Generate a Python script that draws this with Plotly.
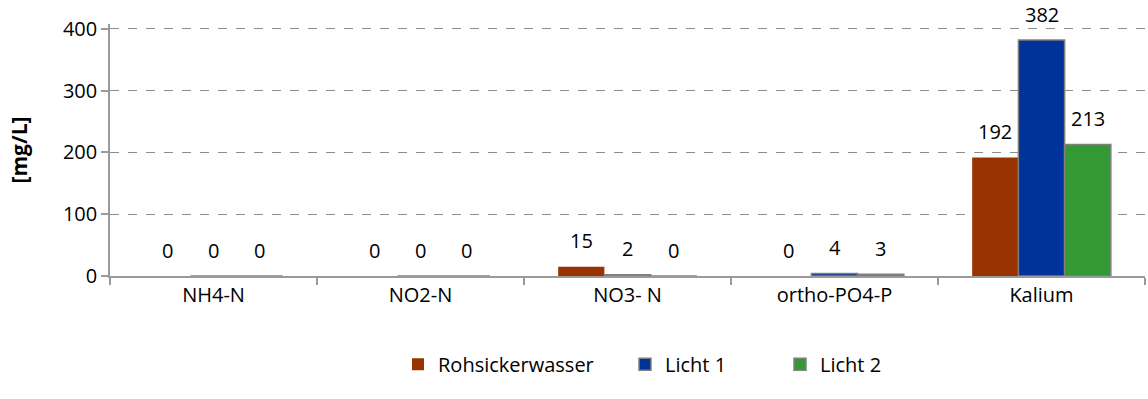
import plotly.graph_objects as go

categories = ["NH4-N", "NO2-N", "NO3- N", "ortho-PO4-P", "Kalium"]
series_names = ["Rohsickerwasser", "Licht 1", "Licht 2"]
rohsickerwasser = [0, 0, 15, 0, 192]
licht1 = [0, 0, 2, 4, 382]
licht2 = [0, 0, 0, 3, 213]
y_ticks = [0, 100, 200, 300, 400]

values = [rohsickerwasser, licht1, licht2]
colors = ["#993300", "#003399", "#339933"]
line_colors = ["#993300", "#808080", "#808080"]
line_widths = [0, 1.5, 1.5]
legends = ["legend", "legend2", "legend3"]

FONT = "Open Sans"
FS = 20
W, H = 1148, 399
ML, MR, MT, MB = 110, 3, 24, 123
BARGAP = 0.33
Y_TOP = 408

fig = go.Figure()
for name, vals, c, lc, lw, lg in zip(series_names, values, colors, line_colors, line_widths, legends):
    fig.add_trace(go.Bar(
        x=categories, y=vals, name=name,
        marker=dict(color=c, line=dict(color=lc, width=lw)),
        legend=lg, showlegend=True,
    ))

# data labels above the bars
plot_w = W - ML - MR
cat_px = plot_w / len(categories)
bar_px = cat_px * (1 - BARGAP) / 3
for j, vals in enumerate(values):
    for cat, v in zip(categories, vals):
        fig.add_annotation(
            x=cat, y=v, xref="x", yref="y", text=str(v), showarrow=False,
            xshift=(j - 1) * bar_px, yshift=26, yanchor="middle",
            font=dict(family=FONT, size=FS, color="#000000"),
        )

leg_common = dict(orientation="h", yanchor="middle", xanchor="left",
                  font=dict(family=FONT, size=FS, color="#000000"),
                  bgcolor="rgba(0,0,0,0)", itemwidth=30, visible=True)

def px_to_paper(px):
    return (px - ML) / plot_w

fig.update_layout(
    width=W, height=H,
    margin=dict(l=ML, r=MR, t=MT, b=MB),
    paper_bgcolor="white", plot_bgcolor="white",
    barmode="group", bargap=BARGAP, bargroupgap=0,
    showlegend=True,
    font=dict(family=FONT, size=FS, color="#000000"),
    legend=dict(x=px_to_paper(398), y=-0.35, **leg_common),
    legend2=dict(x=px_to_paper(625), y=-0.35, **leg_common),
    legend3=dict(x=px_to_paper(780), y=-0.35, **leg_common),
    xaxis=dict(
        showline=True, linecolor="#9a9a9a", linewidth=1.5,
        ticks="outside", tickson="boundaries", ticklen=7, tickcolor="#9a9a9a", tickwidth=1.5,
        tickfont=dict(family=FONT, size=FS, color="#000000"),
        showgrid=False, zeroline=False,
    ),
    yaxis=dict(
        range=[0, Y_TOP], tickvals=y_ticks,
        showline=True, linecolor="#9a9a9a", linewidth=1.5,
        ticks="outside", ticklen=7, tickcolor="#9a9a9a", tickwidth=1.5,
        tickfont=dict(family=FONT, size=FS, color="#000000"),
        showgrid=True, gridcolor="#8c8c8c", griddash="dash", gridwidth=1.2,
        zeroline=False,
        title=dict(text="<b>[mg/L]</b>", font=dict(family=FONT, size=21, color="#000000"), standoff=30),
    ),
)

fig.write_html("out.html")
